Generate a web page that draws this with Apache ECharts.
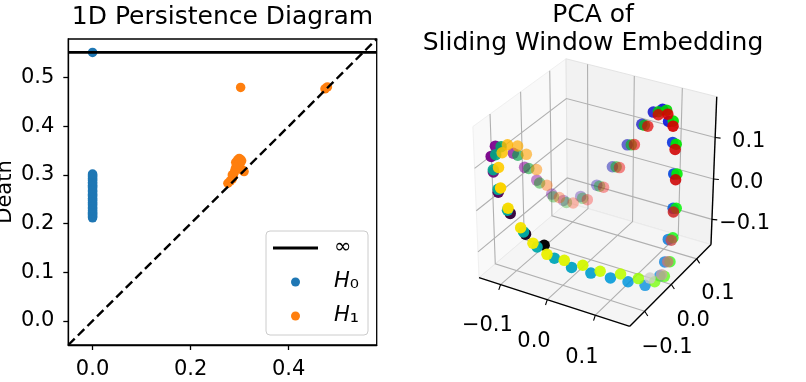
<!DOCTYPE html>
<html><head><meta charset="utf-8">
<script src="https://cdn.jsdelivr.net/npm/echarts@6/dist/echarts.min.js"></script>
<style>html,body{margin:0;padding:0;background:#fff}#c{width:806px;height:382px}</style>
</head><body><div id="c"></div>
<script>
// ---------------- Persistence diagram data ----------------
const H0_DEATHS = [0.212,0.214,0.216,0.219,0.221,0.223,0.226,0.228,0.231,0.233,0.236,0.239,0.241,0.244,0.247,0.249,0.252,0.255,0.258,0.260,0.263,0.266,0.268,0.271,0.274,0.277,0.279,0.282,0.285,0.288,0.290,0.293,0.296,0.298,0.300,0.302];
const H0_ESSENTIAL = [0.552];
const H1_BIRTHS = [0.276,0.281,0.285,0.287,0.289,0.291,0.293,0.292,0.296,0.299,0.302,0.301,0.297,0.304,0.306,0.309,0.285,0.302,0.474,0.479];
const H1_DEATHS = [0.283,0.288,0.292,0.298,0.305,0.312,0.318,0.326,0.331,0.334,0.332,0.325,0.322,0.329,0.310,0.307,0.300,0.480,0.477,0.481];
const INF_LEVEL = 0.552;
const PD_RANGE = [-0.0495, 0.5795];
const PD_X_TICKS = [0, 0.2, 0.4];
const PD_Y_TICKS = [0, 0.1, 0.2, 0.3, 0.4, 0.5];

// ---------------- PCA of sliding window embedding (3 components) ----------------
const PC1 = [-0.018,-0.053,-0.085,-0.116,-0.140,-0.143,-0.144,-0.144,-0.141,-0.129,-0.111,-0.095,-0.069,-0.042,-0.014,0.014,0.043,0.068,0.090,0.107,0.121,0.141,0.154,0.153,0.151,0.148,0.133,0.112,0.088,0.059,0.029,0.000,
 -0.031,-0.057,-0.092,-0.116,-0.140,-0.144,-0.144,-0.144,-0.137,-0.126,-0.109,-0.091,-0.066,-0.037,-0.007,0.022,0.049,0.080,0.101,0.121,0.135,0.146,0.152,0.153,0.154,0.151,0.143,0.125,0.102,0.073,0.047,0.017,-0.013,
 -0.039,-0.063,-0.090,-0.108,-0.132,-0.144,-0.144,-0.144,-0.139,-0.129,-0.117,-0.101,-0.081,-0.058,-0.030,-0.001,0.028,0.056,0.080,0.104,0.121,0.130,0.144,0.149,0.154,0.153,0.149,0.138];
const PC2 = [-0.133,-0.139,-0.138,-0.128,-0.106,-0.107,-0.091,-0.034,-0.002,0.020,0.043,0.059,0.079,0.093,0.103,0.109,0.111,0.108,0.102,0.094,0.085,0.054,0.030,0.016,0.008,-0.004,-0.032,-0.058,-0.080,-0.100,-0.117,-0.128,
 -0.136,-0.139,-0.136,-0.128,-0.106,-0.091,-0.073,-0.019,0.006,0.025,0.046,0.063,0.081,0.095,0.105,0.110,0.110,0.105,0.097,0.085,0.072,0.057,0.046,0.034,0.023,0.008,-0.014,-0.043,-0.068,-0.091,-0.108,-0.122,-0.132,
 -0.137,-0.139,-0.137,-0.132,-0.101,-0.070,-0.052,-0.019,0.002,0.020,0.036,0.054,0.071,0.085,0.098,0.107,0.111,0.110,0.105,0.096,0.085,0.078,0.056,0.041,0.026,0.016,0.001,-0.023];
const PC3 = [-0.051,-0.033,0.005,0.039,0.067,0.103,0.118,0.070,0.019,-0.021,-0.063,-0.083,-0.076,-0.047,0.002,0.061,0.118,0.156,0.172,0.153,0.113,0.062,-0.002,-0.069,-0.120,-0.148,-0.159,-0.141,-0.126,-0.112,-0.098,-0.079,
 -0.058,-0.029,0.009,0.046,0.072,0.098,0.107,0.057,0.013,-0.030,-0.071,-0.089,-0.081,-0.049,0.003,0.063,0.118,0.162,0.176,0.163,0.120,0.062,-0.012,-0.076,-0.128,-0.156,-0.158,-0.138,-0.119,-0.108,-0.092,-0.082,-0.072,
 -0.051,-0.021,0.015,0.054,0.077,0.091,0.100,0.079,0.049,0.005,-0.039,-0.075,-0.092,-0.084,-0.051,0.002,0.065,0.118,0.155,0.168,0.151,0.103,0.048,-0.019,-0.077,-0.124,-0.148,-0.145];
const TICKS3D = [-0.1, 0, 0.1];

// view limits of the 3D box and camera
const XB = [-0.147, 0.170], YB = [-0.154, 0.158], ZB = [-0.164, 0.196];
const ELEV = 30, AZIM = -60, DIST = 10;

const NIPY = ['#000000','#770088','#880099','#0000aa','#0000dd','#0077dd','#0099dd','#00aaaa','#00aa88','#009900','#00bb00','#00dd00','#00ff00','#bbff00','#eeee00','#ffcc00','#ff9900','#ff0000','#dd0000','#cc0000','#cccccc'];
const FONT = 'DejaVu Sans';

// ---------------- projection ----------------
const er = ELEV*Math.PI/180, ar = AZIM*Math.PI/180;
const Wv = [Math.cos(er)*Math.cos(ar), Math.cos(er)*Math.sin(ar), Math.sin(er)];
let Uv = [-Wv[1], Wv[0], 0]; const un = Math.hypot(Uv[0],Uv[1]); Uv = [Uv[0]/un, Uv[1]/un, 0];
const Vv = [Wv[1]*Uv[2]-Wv[2]*Uv[1], Wv[2]*Uv[0]-Wv[0]*Uv[2], Wv[0]*Uv[1]-Wv[1]*Uv[0]];
function nq(v, b){ return (v - (b[0]+b[1])/2) / (b[1]-b[0]); }
function proj3(x, y, z){
  const q = [nq(x,XB), nq(y,YB), nq(z,ZB)];
  const U = Uv[0]*q[0]+Uv[1]*q[1]+Uv[2]*q[2];
  const V = Vv[0]*q[0]+Vv[1]*q[1]+Vv[2]*q[2];
  const W = Wv[0]*q[0]+Wv[1]*q[1]+Wv[2]*q[2];
  const d = DIST - W;
  return [U/d, V/d, W];
}
const N = PC1.length;
const pts3 = PC1.map((x,i)=>{ const p = proj3(x, PC2[i], PC3[i]); return [p[0], p[1], p[2], i]; });
let wMin = Infinity, wMax = -Infinity; pts3.forEach(p=>{ wMin=Math.min(wMin,p[2]); wMax=Math.max(wMax,p[2]); });

// box decoration
const xm=XB[0], xM=XB[1], ym=YB[0], yM=YB[1], zm=ZB[0], zM=ZB[1];
const xr=xM-xm, yr=yM-ym, zr=zM-zm;
const PANES = [
  {pts:[[xm,ym,zm],[xm,yM,zm],[xm,yM,zM],[xm,ym,zM]], fill:'rgb(249,249,249)', stroke:'rgb(240,240,240)'},
  {pts:[[xm,yM,zm],[xM,yM,zm],[xM,yM,zM],[xm,yM,zM]], fill:'rgb(242,242,242)', stroke:'rgb(228,228,228)'},
  {pts:[[xm,ym,zm],[xM,ym,zm],[xM,yM,zm],[xm,yM,zm]], fill:'rgb(245,245,245)', stroke:'rgb(234,234,234)'}
];
const fmt = v => (v < 0 ? '\u2212' : '') + Math.abs(v).toFixed(1);

function renderBox(params, api){
  const P = p => { const s = proj3(p[0],p[1],p[2]); return api.coord([s[0], s[1]]); };
  const ch = [];
  PANES.forEach(pn => ch.push({type:'polygon', shape:{points: pn.pts.map(P)}, style:{fill:pn.fill, stroke:pn.stroke, lineWidth:1}}));
  const gl = [];
  TICKS3D.forEach(t => {
    gl.push([[t,ym,zm],[t,yM,zm],[t,yM,zM]]);
    gl.push([[xM,t,zm],[xm,t,zm],[xm,t,zM]]);
    gl.push([[xm,ym,t],[xm,yM,t],[xM,yM,t]]);
  });
  gl.forEach(g => ch.push({type:'polyline', shape:{points:g.map(P)}, style:{stroke:'#b0b0b0', lineWidth:1.1, fill:null}}));
  [[[xm,ym,zm],[xM,ym,zm]], [[xM,ym,zm],[xM,yM,zm]], [[xM,yM,zm],[xM,yM,zM]]].forEach(a =>
    ch.push({type:'polyline', shape:{points:a.map(P)}, style:{stroke:'#000', lineWidth:1.4, fill:null}}));
  TICKS3D.forEach(t => {
    const ticks = [
      [[t,ym,zm],[t,ym-0.02*yr,zm-0.025*zr]],
      [[xM,t,zm],[xM+0.02*xr,t,zm-0.025*zr]],
      [[xM,yM,t],[xM+0.03*xr,yM+0.01*yr,t]]
    ];
    ticks.forEach(s => ch.push({type:'polyline', shape:{points:s.map(P)}, style:{stroke:'#000', lineWidth:1.1, fill:null}}));
    const labs = [
      [t, ym-0.15*yr, zm-0.2*zr],
      [xM+0.147*xr, t, zm-0.2*zr],
      [xM+0.188*xr, yM+0.055*yr, t]
    ];
    labs.forEach(l => { const c = P(l); ch.push({type:'text', x:c[0], y:c[1], style:{text:fmt(t), fill:'#000', fontSize:21, fontFamily:FONT, align:'center', verticalAlign:'middle'}}); });
  });
  return {type:'group', children: ch};
}

const chart = echarts.init(document.getElementById('c'), null, {renderer:'canvas'});
const tickStyle = {color:'#000', width:1.3};
chart.setOption({
  animation: false,
  backgroundColor: '#fff',
  title: [
    {text:'1D Persistence Diagram', left:222.5, top:5, padding:0, textAlign:'center',
     textStyle:{fontSize:25, fontWeight:'normal', color:'#000', fontFamily:FONT}},
    {text:'PCA of\nSliding Window Embedding', left:593, top:1.5, padding:0, textAlign:'center',
     textStyle:{fontSize:25, fontWeight:'normal', color:'#000', fontFamily:FONT, lineHeight:28}}
  ],
  legend: {
    data: [{name:'inf', icon:'path://M0,0L45,0L45,2.8L0,2.8Z'},'H0','H1'], orient:'vertical', left:266, top:231,
    itemWidth:45, itemHeight:9, itemGap:10, padding:[5,9,7,7], symbolKeepAspect:true,
    backgroundColor:'rgba(255,255,255,0.8)', borderColor:'#cccccc', borderWidth:1, borderRadius:4,
    formatter: n => n === 'inf' ? '\u221e' : ('{i|H}{s|' + (n === 'H0' ? '\u2080' : '\u2081') + '}'),
    textStyle:{fontSize:21, color:'#000', fontFamily:FONT, lineHeight:24, padding:[0,0,0,11],
      rich:{i:{fontStyle:'italic', fontSize:21, fontFamily:FONT, lineHeight:24}, s:{fontSize:23, fontFamily:FONT, lineHeight:24}}}
  },
  grid: [
    {left:68.3, top:39, width:308.4, height:306, show:true, borderColor:'#000', borderWidth:1.3, backgroundColor:'transparent', outerBoundsMode:'none', containLabel:false},
    {left:420, top:40, width:360, height:320, outerBoundsMode:'none', containLabel:false}
  ],
  xAxis: [
    {type:'value', gridIndex:0, min:PD_RANGE[0], max:PD_RANGE[1], splitLine:{show:false},
     axisLine:{show:true, onZero:false, lineStyle:tickStyle},
     axisTick:{show:true, length:5, customValues:PD_X_TICKS, lineStyle:tickStyle},
     axisLabel:{customValues:PD_X_TICKS, formatter:v=>v.toFixed(1), fontSize:21, color:'#000', fontFamily:FONT, margin:14}},
    {type:'value', gridIndex:1, min:-0.101609, max:0.105287, show:false}
  ],
  yAxis: [
    {type:'value', gridIndex:0, min:PD_RANGE[0], max:PD_RANGE[1], splitLine:{show:false},
     name:'Death', nameLocation:'middle', nameGap:52, nameRotate:90,
     nameTextStyle:{fontSize:21, color:'#000', fontFamily:FONT},
     axisLine:{show:true, onZero:false, lineStyle:tickStyle},
     axisTick:{show:true, length:5, customValues:PD_Y_TICKS, lineStyle:tickStyle},
     axisLabel:{customValues:PD_Y_TICKS, formatter:v=>v.toFixed(1), fontSize:21, color:'#000', fontFamily:FONT, margin:14}},
    {type:'value', gridIndex:1, min:-0.099710, max:0.085797, show:false}
  ],
  visualMap: [
    {type:'continuous', show:false, seriesIndex:5, dimension:3, min:0, max:N-1, inRange:{color:NIPY}},
    {type:'continuous', show:false, seriesIndex:5, dimension:2, min:wMin, max:wMax, inRange:{opacity:[0.3,1]}}
  ],
  series: [
    {name:'inf', type:'line', xAxisIndex:0, yAxisIndex:0, symbol:'none', z:4,
     data:[[PD_RANGE[0], INF_LEVEL],[PD_RANGE[1], INF_LEVEL]], lineStyle:{color:'#000', width:2.7}, itemStyle:{color:'#000'}},
    {name:'diag', type:'line', xAxisIndex:0, yAxisIndex:0, symbol:'none', z:4,
     data:[[PD_RANGE[0],PD_RANGE[0]],[PD_RANGE[1],PD_RANGE[1]]], lineStyle:{color:'#000', width:2.4, type:[9,4.5]}},
    {name:'H0', type:'scatter', xAxisIndex:0, yAxisIndex:0, symbolSize:9.5, z:3,
     itemStyle:{color:'#1f77b4', opacity:1},
     data: H0_DEATHS.map(d=>[0,d]).concat(H0_ESSENTIAL.map(d=>[0,d]))},
    {name:'H1', type:'scatter', xAxisIndex:0, yAxisIndex:0, symbolSize:9.5, z:3,
     itemStyle:{color:'#ff7f0e', opacity:1},
     data: H1_BIRTHS.map((b,i)=>[b, H1_DEATHS[i]])},
    {name:'box', type:'custom', xAxisIndex:1, yAxisIndex:1, silent:true, z:1,
     renderItem: renderBox, data:[[0,0]]},
    {name:'pca', type:'scatter', xAxisIndex:1, yAxisIndex:1, symbolSize:11.5, z:3, silent:true,
     data: pts3}
  ]
});
</script></body></html>
